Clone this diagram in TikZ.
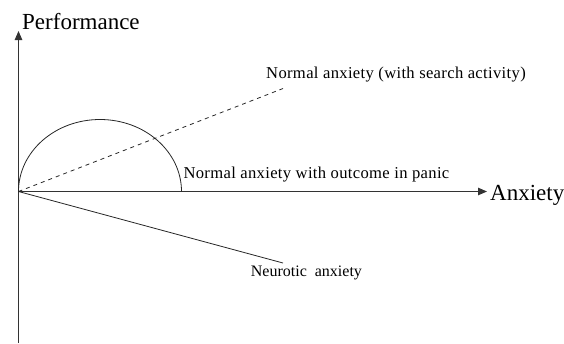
\documentclass[tikz,border=0pt]{standalone}
\usepackage{fontspec}
\setmainfont{Liberation Serif}
\newfontfamily\spacedserif[LetterSpace=2]{Liberation Serif}
\usetikzlibrary{arrows.meta}
\begin{document}
\begin{tikzpicture}[x=1pt,y=-1pt,
  axis/.style={line width=0.9pt,draw=black!80,-{Triangle[length=9pt,width=7.5pt]}},
  curve/.style={line width=0.8pt,draw=black!85},
  big/.style={font=\fontsize{23}{26}\selectfont,inner sep=0pt,anchor=base west},
  small/.style={font=\spacedserif\fontsize{16.6}{20}\selectfont,inner sep=0pt,anchor=base west},
  smallplain/.style={font=\fontsize{16}{20}\selectfont,inner sep=0pt,anchor=base west}]
\useasboundingbox (0,0) rectangle (564,343);
\coordinate (O) at (18.5,191.5);
\coordinate (ybot) at (18.5,343);
\coordinate (ytop) at (18.5,31);
\coordinate (xend) at (487,191.5);
\coordinate (dashend) at (283,88.5);
\coordinate (neurend) at (283,263);
\draw[axis] (ybot) -- (ytop);
\draw[axis] (O) -- (xend);
\draw[curve] (O) arc[start angle=180,end angle=0,x radius=81.5,y radius=-72];
\draw[curve,dash pattern=on 4pt off 4pt] (O) -- (dashend);
\draw[curve] (O) -- (neurend);
\node[big] (perf) at (22,29) {Performance};
\node[big] (anx) at (490,200) {Anxiety};
\node[small] (search) at (266,78.3) {Normal anxiety (with search activity)};
\node[small] (panic) at (183.3,178.3) {Normal anxiety with outcome in panic};
\node[smallplain] (neur) at (250.7,276.5) {Neurotic\hspace{8pt}anxiety};
\end{tikzpicture}
\end{document}
